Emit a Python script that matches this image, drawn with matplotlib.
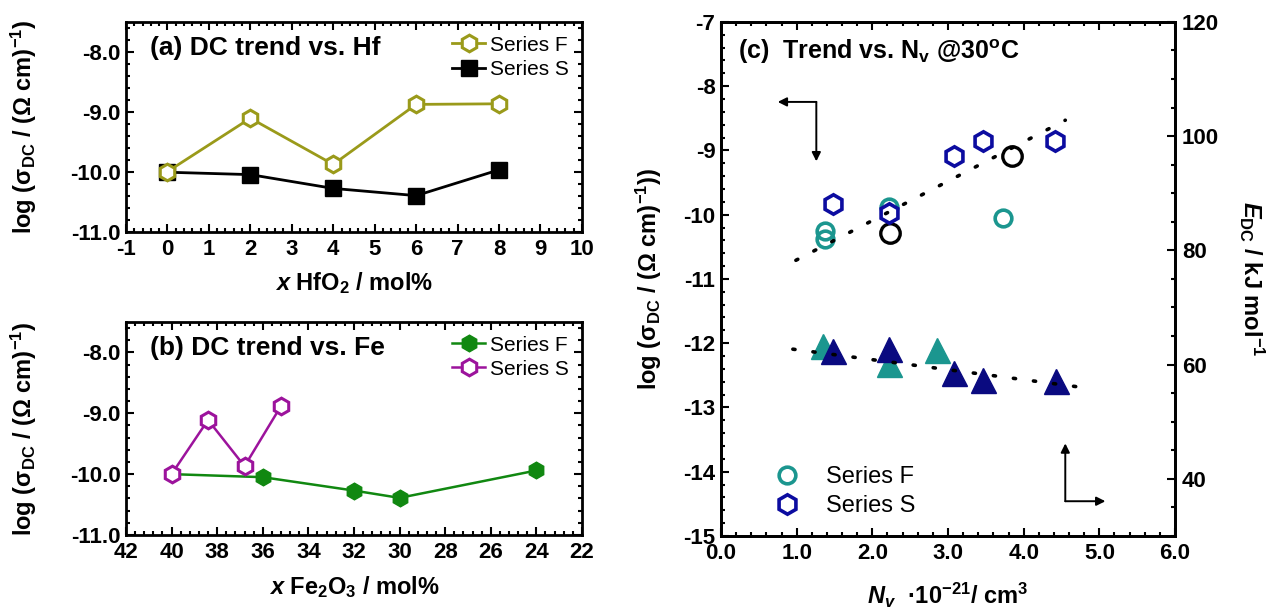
import numpy as np
import matplotlib
matplotlib.use('Agg')
import matplotlib.pyplot as plt
from matplotlib.ticker import MultipleLocator, FormatStrFormatter
from matplotlib.lines import Line2D

plt.rcParams['font.family'] = ['Liberation Sans', 'DejaVu Sans']
plt.rcParams['font.weight'] = 'bold'
plt.rcParams['axes.unicode_minus'] = False
plt.rcParams['mathtext.fontset'] = 'custom'
plt.rcParams['mathtext.rm'] = 'Liberation Sans:bold'
plt.rcParams['mathtext.bf'] = 'Liberation Sans:bold'
plt.rcParams['mathtext.it'] = 'Liberation Sans:italic:bold'
plt.rcParams['mathtext.default'] = 'bf'

# (a) log sigma_DC vs HfO2 content
hf_x = [0, 2, 4, 6, 8]
hf_F = [-9.99, -9.10, -9.87, -8.87, -8.86]
hf_S = [-10.00, -10.04, -10.27, -10.39, -9.96]

# (b) log sigma_DC vs Fe2O3 content
fe_xF = [40, 36, 32, 30, 24]
fe_F = [-10.00, -10.05, -10.27, -10.39, -9.94]
fe_xS = [40, 38.4, 36.8, 35.2]
fe_S = [-10.00, -9.11, -9.87, -8.88]

# (c) log sigma_DC (left axis) and E_DC (right axis) vs N_v
nv_F = [1.37, 1.37, 2.22, 3.73]
sig_F = [-10.26, -10.38, -9.88, -10.05]
nv_ref = [2.24, 3.84]
sig_ref = [-10.28, -9.08]
nv_S = [1.48, 2.22, 3.08, 3.46, 4.42]
sig_S = [-9.84, -9.98, -9.08, -8.86, -8.86]
fit_sig_x = [0.99, 4.55]
fit_sig_y = [-10.71, -8.53]

nvE_F = [1.35, 2.22, 2.85]
E_F = [63.3, 60.1, 62.6]
nvE_S = [1.48, 2.22, 3.08, 3.46, 4.43]
E_S = [62.3, 62.8, 58.6, 57.3, 57.2]
fit_E_x = [0.95, 4.89]
fit_E_y = [62.7, 55.8]

olive = '#9a9a1a'
green = '#118811'
purple = '#9c139c'
teal = '#1b968f'
navy = '#0c0ca0'
navy_t = '#0a0a80'

ylab = 'log (σ$_{DC}$ / (Ω cm)$^{-1}$)'
TICK = 16
LAB = 17

fig = plt.figure(figsize=(12.79, 6.16), dpi=100)
axa = fig.add_axes([0.0985, 0.623, 0.3565, 0.341])
axb = fig.add_axes([0.0985, 0.1315, 0.3565, 0.3458])
axc = fig.add_axes([0.5637, 0.130, 0.355, 0.8344])


def style(ax, right=True):
    ax.tick_params(which='both', direction='in', top=True, right=right,
                   labelsize=TICK, width=1.5)
    ax.tick_params(axis='x', pad=5)
    ax.tick_params(axis='y', pad=4)
    ax.tick_params(which='major', length=6)
    ax.tick_params(which='minor', length=3)
    for s in ax.spines.values():
        s.set_linewidth(2)


# ---- panel (a)
axa.plot(hf_x, hf_S, '-s', color='k', lw=2, ms=11, zorder=2, label='Series S')
axa.plot(hf_x, hf_F, '-h', color=olive, lw=2, ms=12, mfc='white', mew=2.2,
         zorder=3, label='Series F')
axa.set_xlim(-1, 10)
axa.set_ylim(-11, -7.5)
axa.xaxis.set_major_locator(MultipleLocator(1))
axa.xaxis.set_minor_locator(MultipleLocator(0.2))
axa.yaxis.set_major_locator(MultipleLocator(1))
axa.yaxis.set_minor_locator(MultipleLocator(0.2))
axa.yaxis.set_major_formatter(FormatStrFormatter('%.1f'))
style(axa)
axa.set_xlabel(r'$\mathit{x}$ HfO$_2$ / mol%', fontsize=LAB, fontweight='bold', labelpad=7)
axa.set_ylabel(ylab, fontsize=LAB, fontweight='bold', labelpad=22)
axa.text(0.053, 0.877, '(a) DC trend vs. Hf', transform=axa.transAxes,
         fontsize=19, fontweight='bold', va='center')
h, l = axa.get_legend_handles_labels()
axa.legend(h[::-1], l[::-1], loc='upper right', frameon=False,
           prop={'size': 15, 'weight': 'normal'}, handlelength=1.6,
           handletextpad=0.2, labelspacing=0.25, borderaxespad=0.25)

# ---- panel (b)
axb.plot(fe_xF, fe_F, '-h', color=green, lw=1.8, ms=12, zorder=2, label='Series F')
axb.plot(fe_xS, fe_S, '-h', color=purple, lw=1.8, ms=12, mfc='white', mew=2.2,
         zorder=3, label='Series S')
axb.set_xlim(42, 22)
axb.set_ylim(-11, -7.5)
axb.xaxis.set_major_locator(MultipleLocator(2))
axb.xaxis.set_minor_locator(MultipleLocator(0.4))
axb.yaxis.set_major_locator(MultipleLocator(1))
axb.yaxis.set_minor_locator(MultipleLocator(0.2))
axb.yaxis.set_major_formatter(FormatStrFormatter('%.1f'))
style(axb)
axb.set_xlabel(r'$\mathit{x}$ Fe$_2$O$_3$ / mol%', fontsize=LAB, fontweight='bold', labelpad=8)
axb.set_ylabel(ylab, fontsize=LAB, fontweight='bold', labelpad=22)
axb.text(0.053, 0.877, '(b) DC trend vs. Fe', transform=axb.transAxes,
         fontsize=19, fontweight='bold', va='center')
axb.legend(loc='upper right', frameon=False,
           prop={'size': 15, 'weight': 'normal'}, handlelength=1.6,
           handletextpad=0.2, labelspacing=0.25, borderaxespad=0.25)

# ---- panel (c)
axc.plot(nv_F, sig_F, 'o', ls='none', ms=12, mfc='none', mec=teal, mew=2.6, zorder=2)
axc.plot(nv_ref, sig_ref, 'o', ls='none', ms=14, mfc='none', mec='k', mew=2.4, zorder=2)
axc.plot(nv_S, sig_S, 'h', ls='none', ms=14, mfc='white', mec=navy, mew=2.6, zorder=3)
axc.plot(fit_sig_x, fit_sig_y, color='k', lw=2.6, ls=(0, (0.6, 5)),
         dash_capstyle='round', zorder=4)
axc.set_xlim(0, 6)
axc.set_ylim(-15, -7)
axc.xaxis.set_major_locator(MultipleLocator(1))
axc.xaxis.set_minor_locator(MultipleLocator(0.2))
axc.xaxis.set_major_formatter(FormatStrFormatter('%.1f'))
axc.yaxis.set_major_locator(MultipleLocator(1))
axc.yaxis.set_minor_locator(MultipleLocator(0.2))
style(axc, right=False)
axc.set_xlabel(r'$\mathit{N_v}$  ·10$^{-21}$/ cm$^3$', fontsize=LAB, fontweight='bold',
               labelpad=12)
axc.set_ylabel('log (σ$_{DC}$ / (Ω cm)$^{-1}$))', fontsize=LAB, fontweight='bold',
               labelpad=14)
axc.text(0.22, -7.46, '(c)  Trend vs. N$_v$ @30$^{\\rm o}$C', fontsize=18,
         fontweight='bold', va='center')

# arrows pointing at the axes
arr = dict(arrowstyle='-|>', color='k', lw=1.4, mutation_scale=13, shrinkA=0, shrinkB=0)
axc.annotate('', xy=(0.75, -8.245), xytext=(1.26, -8.245), arrowprops=arr)
axc.annotate('', xy=(1.26, -9.17), xytext=(1.26, -8.245), arrowprops=arr)
axc.annotate('', xy=(4.55, -13.56), xytext=(4.55, -14.46), arrowprops=arr)
axc.annotate('', xy=(5.08, -14.46), xytext=(4.55, -14.46), arrowprops=arr)

handles = [Line2D([], [], marker='o', ls='none', ms=12, mfc='none', mec=teal, mew=2.6),
           Line2D([], [], marker='h', ls='none', ms=14, mfc='white', mec=navy, mew=2.6)]
axc.legend(handles, ['Series F', 'Series S'], loc='lower left',
           bbox_to_anchor=(0.06, -0.005), frameon=False,
           prop={'size': 17, 'weight': 'normal'}, handlelength=1.5,
           handletextpad=0.9, labelspacing=0.3)

ax2 = axc.twinx()
ax2.plot(nvE_F, E_F, '^', ls='none', ms=18, color=teal, mec=teal)
ax2.plot(nvE_S, E_S, '^', ls='none', ms=18, color=navy_t, mec=navy_t)
ax2.plot(fit_E_x, fit_E_y, color='k', lw=2.6, ls=(0, (0.6, 5)),
         dash_capstyle='round')
ax2.set_ylim(30, 120)
ax2.yaxis.set_major_locator(MultipleLocator(20))
ax2.yaxis.set_minor_locator(MultipleLocator(5))
ax2.set_yticks([40, 60, 80, 100, 120])
ax2.tick_params(which='both', direction='in', labelsize=TICK, width=1.5, pad=5)
ax2.tick_params(which='major', length=6)
ax2.tick_params(which='minor', length=3)
for s in ax2.spines.values():
    s.set_linewidth(2)
ax2.set_ylabel(r'$\mathit{E}_{DC}$ / kJ mol$^{-1}$', fontsize=LAB, fontweight='bold',
               rotation=-90, labelpad=34)

# make every tick label bold
fig.canvas.draw()
for ax in [axa, axb, axc, ax2]:
    for lab in ax.get_xticklabels() + ax.get_yticklabels():
        lab.set_fontweight('bold')

fig.savefig('out.png', dpi=100)
